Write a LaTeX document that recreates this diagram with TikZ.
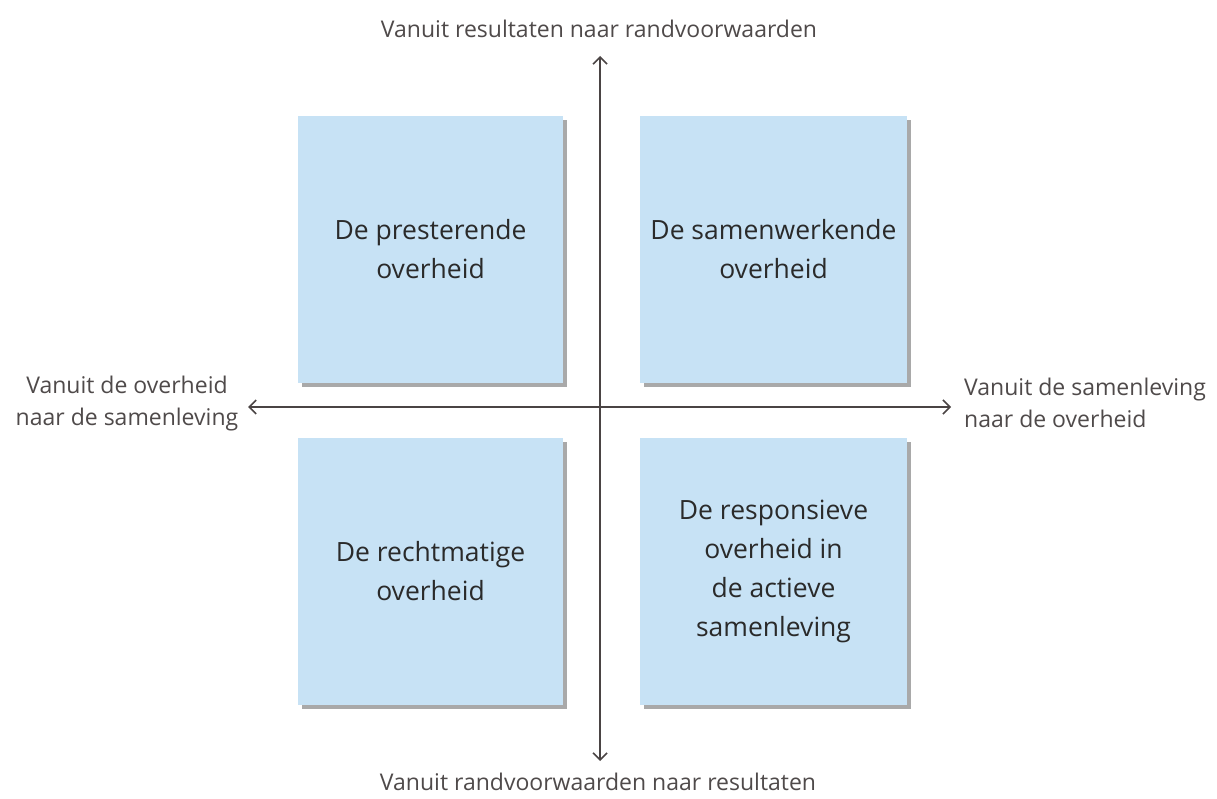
\documentclass[tikz,border=0pt]{standalone}
\usepackage{fontspec}
\setmainfont{Open Sans}
\usetikzlibrary{arrows.meta}
\definecolor{boxfill}{HTML}{C7E2F5}
\definecolor{shadowc}{HTML}{A9A9A9}
\definecolor{axisc}{HTML}{4A4444}
\definecolor{textc}{HTML}{2A2A2A}
\definecolor{lblc}{HTML}{4F4A4A}
\begin{document}
\begin{tikzpicture}[x=1pt,y=-1pt,
  quad/.style={fill=boxfill, minimum width=265pt, minimum height=267pt, inner sep=0pt,
    align=center, font=\fontsize{26.5}{39}\selectfont, text=textc},
  axislbl/.style={font=\fontsize{23}{32}\selectfont, text=lblc, align=center, inner sep=0pt},
  axis/.style={draw=axisc, line width=1.6pt, {Straight Barb[length=7pt,width=14pt,line width=1.6pt]}-{Straight Barb[length=7pt,width=14pt,line width=1.6pt]}}]
\path[fill=white,use as bounding box] (0,0) rectangle (1217,799);
% shadows
\fill[shadowc] (302,120) rectangle (567,387);
\fill[shadowc] (644,120) rectangle (911,387);
\fill[shadowc] (302,442) rectangle (567,709);
\fill[shadowc] (644,442) rectangle (911,709);
\node[quad] (tl) at (430.5,249.5) {De presterende\\overheid};
\node[quad,minimum width=267pt] (tr) at (773.5,249.5) {De samenwerkende\\overheid};
\node[quad] (bl) at (430.5,571.5) {De rechtmatige\\overheid};
\node[quad,minimum width=267pt] (br) at (773.5,571.5) {De responsieve\\overheid in\\de actieve\\samenleving};
\coordinate (top) at (600,56);
\coordinate (bot) at (600,761);
\coordinate (lft) at (248,407);
\coordinate (rgt) at (951,407);
\draw[axis] (bot) -- (top);
\draw[axis] (lft) -- (rgt);
\node[axislbl] (tlbl) at (599,29) {Vanuit resultaten naar randvoorwaarden};
\node[axislbl] (blbl) at (598,782) {Vanuit randvoorwaarden naar resultaten};
\node[axislbl] (llbl) at (127,404) {Vanuit de overheid\\naar de samenleving};
\node[axislbl, anchor=west, align=left] (rlbl) at (964,403) {Vanuit de samenleving\\naar de overheid};
\end{tikzpicture}
\end{document}
